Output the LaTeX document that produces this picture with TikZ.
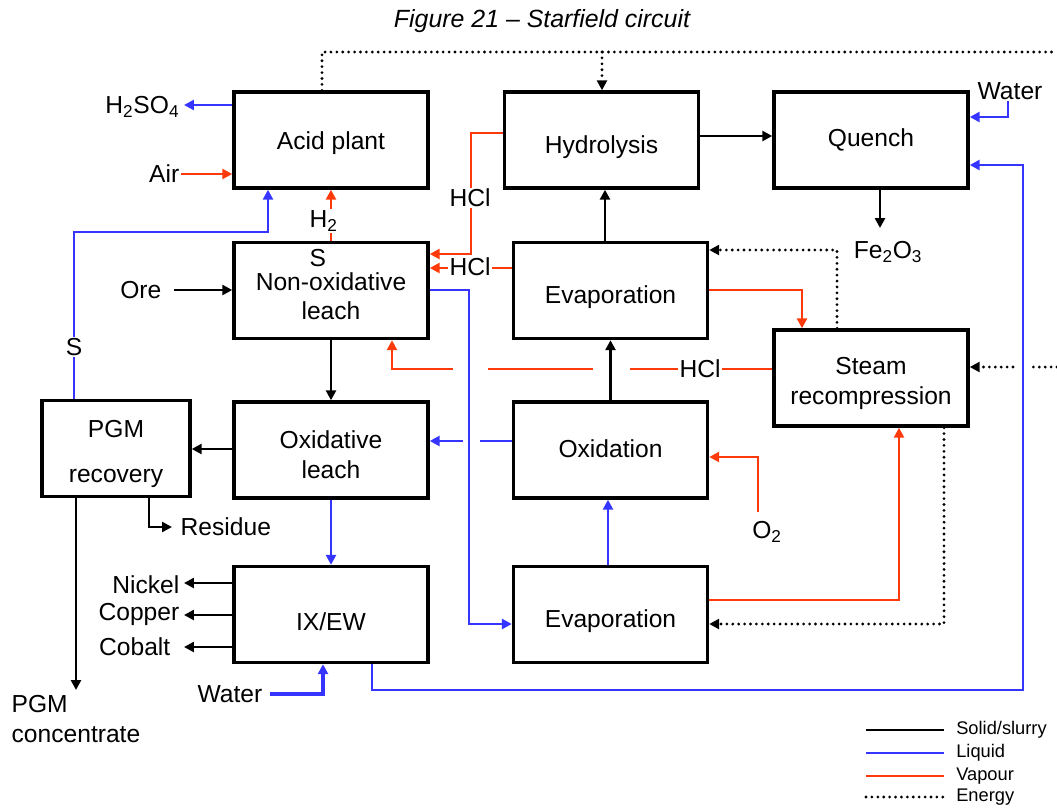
\documentclass[tikz,border=0pt]{standalone}
\usepackage{fontspec}
\setmainfont{Liberation Sans}
\usetikzlibrary{arrows.meta}
\definecolor{liqblue}{HTML}{3535FF}
\definecolor{vapred}{HTML}{FF3A0A}

\begin{document}
\begin{tikzpicture}[x=0.025cm, y=-0.025cm,
		>={Triangle[length=7pt,width=7pt]},
		box/.style={draw=black, line width=2.4pt, minimum width=4.85cm, minimum height=2.4cm},
		boxtxt/.style={inner sep=0pt, align=center, font=\fontsize{17.5}{21}\selectfont},
		lbl/.style={inner sep=1pt, align=center, font=\fontsize{17.5}{21}\selectfont},
		slurry/.style={draw=black, line width=2pt},
		liq/.style={draw=liqblue, line width=2pt},
		vap/.style={draw=vapred, line width=2pt},
		energy/.style={draw=black, line width=2.2pt, dash pattern=on 0pt off 4.2pt, line cap=round}]
		
		% Fix the size of the picture
		\useasboundingbox (0,0) rectangle (1057,810);
		
		% Title
		\node[font=\fontsize{17.7}{21}\selectfont\itshape] (title) at (542,21) {Figure 21 – Starfield circuit};
		
		% Process units
		\node[box] (acid) at (331,140) {};
		\node[box] (hydro) at (601.5,140) {};
		\node[box] (quench) at (871,140) {};
		\node[box] (nonox) at (331,290.5) {};
		\node[box] (evapA) at (610.5,290.5) {};
		\node[box] (steam) at (871,378) {};
		\node[box, minimum width=3.7cm] (pgm) at (116,448.5) {};
		\node[box] (oxl) at (331,450) {};
		\node[box] (oxid) at (610.5,450) {};
		\node[box] (ixew) at (331,614.5) {};
		\node[box] (evapB) at (610.5,614.5) {};
		
		% Text inside the units
		\node[boxtxt] at ([yshift=-2pt]acid.center) {Acid plant};
		\node[boxtxt] at ([yshift=-5pt]hydro.center) {Hydrolysis};
		\node[boxtxt] at (quench.center) {Quench};
		\node[boxtxt] at ([yshift=-4pt]nonox.center) {Non-oxidative\\leach};
		\node[boxtxt] at ([yshift=-5pt]evapA.center) {Evaporation};
		\node[boxtxt] at ([yshift=-4pt]steam.center) {Steam\\recompression};
		\node[boxtxt] at ([yshift=-4pt]pgm.center) {PGM\\[11pt]recovery};
		\node[boxtxt] at ([yshift=-3.5pt]oxl.center) {Oxidative\\leach};
		\node[boxtxt] at ([yshift=1pt]oxid.center) {Oxidation};
		\node[boxtxt] at ([yshift=-5pt]ixew.center) {IX/EW};
		\node[boxtxt] at ([yshift=-5pt]evapB.center) {Evaporation};
		
		% Feeds and products
		\node[lbl, anchor=east] (hso) at (181,107) {H\textsubscript{2}SO\textsubscript{4}};
		\node[lbl, anchor=east] (air) at (181,174) {Air};
		\node[lbl, anchor=east] (ore) at (163,290) {Ore};
		\node[lbl] (watA) at (1010,91) {Water};
		\node[lbl] (fe) at (888,252) {Fe\textsubscript{2}O\textsubscript{3}};
		\node[lbl] (otwo) at (767,532) {O\textsubscript{2}};
		\node[lbl, anchor=west] (res) at (179,527) {Residue};
		\node[lbl, anchor=east] (nickel) at (181,585) {Nickel};
		\node[lbl, anchor=east] (copper) at (181,614) {Copper};
		\node[lbl, anchor=east] (cobalt) at (172,647) {Cobalt};
		\node[lbl, anchor=east] (watB) at (264,694) {Water};
		\node[lbl, anchor=north west, align=left] (conc) at (10,694) {PGM\\concentrate};
		\node[lbl, anchor=west] (sul) at (308,258) {S};
		
		% Energy lines
		\draw[energy] (acid.north -| 322,0) -- (322,52) -- (1057,52);
		\draw[energy,->] (602,52) -- (hydro.north -| 602,0);
		\draw[energy,->] (steam.north -| 837,0) -- (837,250) -- (evapA.east |- 0,250);
		\draw[energy,->] (1057,367) -- (1033,367) (1013,367) -- (steam.east |- 0,367);
		\draw[energy,->] (steam.south -| 944,0) -- (944,624) -- (evapB.east |- 0,624);
		
		% Solid/slurry
		\draw[slurry,->] ([xshift=8pt]ore.east) -- (nonox.west |- ore.east);
		\draw[slurry,->] (nonox.south) -- (oxl.north);
		\draw[slurry,->] (oxid.north) -- (evapA.south);
		\draw[slurry,->] (evapA.north -| 605,0) -- (hydro.south -| 605,0);
		\draw[slurry,->] (hydro.east |- 0,136) -- (quench.west |- 0,136);
		\draw[slurry,->] (quench.south -| 880,0) -- (880,228);
		\draw[slurry,->] (oxl.west |- 0,449) -- (pgm.east |- 0,449);
		\draw[slurry,->] (pgm.south -| 149,0) -- (149,527) -- ([xshift=-5pt]res.west);
		\draw[slurry,->] (pgm.south -| 76,0) -- (76,690);
		\foreach \yy in {583,615,647}
			\draw[slurry,->] (ixew.west |- 0,\yy) -- (184,\yy);
		
		% Liquid
		\draw[liq,->] (acid.west |- 0,105) -- (184,105);
		\draw[liq,->] (pgm.north -| 74,0) -- (74,232) -- (268,232) -- (acid.south -| 268,0);
		\draw[liq,->] (nonox.east |- 0,290) -- (469,290) -- (469,624) -- (evapB.west |- 0,624);
		\draw[liq,->] (watA.south -| 1008,0) -- (1008,117) -- (quench.east |- 0,117);
		\draw[liq,->] (ixew.south -| 372,0) -- (372,690) -- (1023,690) -- (1023,165) -- (quench.east |- 0,165);
		\draw[liq,->] (evapB.north -| 608,0) -- (oxid.south -| 608,0);
		\draw[liq,->] (oxid.west |- 0,441) -- (480,441) (463,441) -- (oxl.east |- 0,441);
		\draw[liq,->] (oxl.south) -- (ixew.north);
		\draw[liq,->,line width=2.6pt] ([xshift=4pt]watB.east) -- (323,694) -- (ixew.south -| 323,0);
		
		% Vapour
		\draw[vap,->] (air.east) -- (acid.west |- air.east);
		\draw[vap,->] (nonox.north) -- (acid.south);
		\draw[vap,->] (hydro.west |- 0,133) -- (471,133) -- (471,254) -- (nonox.east |- 0,254);
		\draw[vap,->] (evapA.west |- 0,268) -- (nonox.east |- 0,268);
		\draw[vap,->] (steam.west |- 0,369) -- (630,369) (593,369) -- (488,369) (453,369) -- (392,369) -- (nonox.south -| 392,0);
		\draw[vap,->] (evapA.east |- 0,290) -- (802,290) -- (steam.north -| 802,0);
		\draw[vap,->] (evapB.east |- 0,600) -- (899,600) -- (steam.south -| 899,0);
		\draw[vap,->] (758,512) -- (758,457) -- (oxid.east |- 0,457);
		
		% Labels sitting on the lines
		\node[lbl, fill=white] (slab) at (74,347) {S};
		\node[lbl, anchor=west, fill=white] (htwo) at (308,221) {H\textsubscript{2}};
		\node[lbl, fill=white] (hclA) at (470,198) {HCl};
		\node[lbl, fill=white] (hclB) at (470,267) {HCl};
		\node[lbl, fill=white] (hclC) at (700,369) {HCl};
		
		% Legend
		\draw[slurry] (866,730) -- (944,730);
		\draw[liq] (866,753) -- (944,753);
		\draw[vap] (866,776) -- (944,776);
		\draw[energy] (866,797) -- (944,797);
		\foreach \yy/\txt in {730/{Solid/slurry}, 753/Liquid, 776/Vapour, 797/Energy}
			\node[anchor=west, inner sep=0pt, font=\fontsize{13}{15}\selectfont] at (956,\yy) {\txt};
	\end{tikzpicture}
\end{document}
